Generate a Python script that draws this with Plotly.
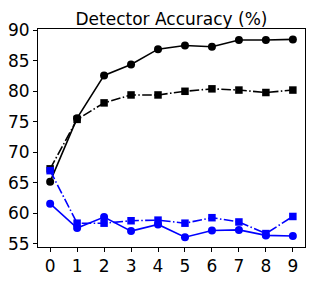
import plotly.graph_objects as go

x = list(range(10))
black_solid = [65.2, 75.6, 82.6, 84.4, 86.9, 87.5, 87.3, 88.4, 88.4, 88.5]
black_dashdot = [67.3, 75.4, 78.1, 79.4, 79.4, 80.0, 80.4, 80.2, 79.8, 80.2]
blue_solid = [61.6, 57.6, 59.4, 57.1, 58.2, 56.1, 57.2, 57.3, 56.4, 56.3]
blue_dashdot = [67.0, 58.4, 58.4, 58.8, 58.9, 58.4, 59.3, 58.6, 56.7, 59.5]
xticks = [str(i) for i in x]
yticks = [55, 60, 65, 70, 75, 80, 85, 90]

dashdot = "9.6px,2.4px,1.5px,2.4px"

fig = go.Figure()
fig.add_trace(go.Scatter(x=x, y=black_solid, mode="lines+markers",
                         line=dict(color="black", width=1.6),
                         marker=dict(symbol="circle", size=8, color="black")))
fig.add_trace(go.Scatter(x=x, y=black_dashdot, mode="lines+markers",
                         line=dict(color="black", width=1.6, dash=dashdot),
                         marker=dict(symbol="square", size=7.5, color="black")))
fig.add_trace(go.Scatter(x=x, y=blue_solid, mode="lines+markers",
                         line=dict(color="blue", width=1.6),
                         marker=dict(symbol="circle", size=8, color="blue")))
fig.add_trace(go.Scatter(x=x, y=blue_dashdot, mode="lines+markers",
                         line=dict(color="blue", width=1.6, dash=dashdot),
                         marker=dict(symbol="square", size=7.5, color="blue")))

fig.update_layout(
    width=316, height=281,
    margin=dict(l=38, r=11, t=29, b=34, autoexpand=False),
    paper_bgcolor="white", plot_bgcolor="white",
    showlegend=False,
    font=dict(family="DejaVu Sans", size=17, color="black"),
    title=dict(text="Detector Accuracy (%)", x=0.5 + (38 - 11) / 2 / 316, xref="container",
               xanchor="center", y=1 - 19 / 281, yref="container", yanchor="middle",
               font=dict(family="DejaVu Sans", size=17, color="black")),
)
fig.update_xaxes(range=[-0.45, 9.45], tickvals=x, ticktext=xticks, automargin=False,
                 showgrid=False, zeroline=False, showline=True, linecolor="black",
                 linewidth=1, mirror=True, ticks="outside", ticklen=4,
                 tickcolor="black", tickfont=dict(size=17))
fig.update_yaxes(range=[54.5, 90.2], tickvals=yticks, automargin=False,
                 showgrid=False, zeroline=False, showline=True, linecolor="black",
                 linewidth=1, mirror=True, ticks="outside", ticklen=4,
                 tickcolor="black", tickfont=dict(size=17))

fig.write_html("out.html", config={"displayModeBar": False},
               post_script="document.body.style.margin='0';document.body.style.overflow='hidden';")
